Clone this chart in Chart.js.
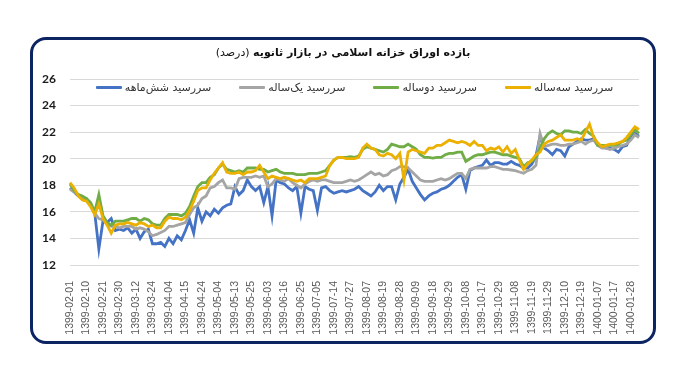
<!DOCTYPE html>
<html>
<head>
<meta charset="utf-8">
<script src="https://cdn.jsdelivr.net/npm/chart.js@4"></script>
<style>
  html, body { margin: 0; padding: 0; background: #fff; }
  #wrap { position: relative; width: 693px; height: 390px; }
  #frame {
    position: absolute; left: 30px; top: 37px; width: 626px; height: 307px;
    box-sizing: border-box; border: 3px solid #0d2463; border-radius: 16px;
  }
  #title {
    position: absolute; left: 30px; width: 626px; top: 46px; text-align: center;
    font-family: "DejaVu Sans", sans-serif; font-size: 11px; color: #111;
  }
  #title b { font-weight: bold; }
  #legend {
    position: absolute; left: 70px; width: 569px; top: 81px;
    display: flex; justify-content: center; gap: 28px;
    font-family: "DejaVu Sans", sans-serif; font-size: 11px; color: #333;
  }
  .item { display: flex; align-items: center; gap: 3px; }
  .swatch { width: 26px; height: 3px; border-radius: 1px; }
  canvas { position: absolute; left: 0; top: 0; }
</style>
</head>
<body>
<div id="wrap">
  <div id="frame"></div>
  <canvas id="chart" width="693" height="390"></canvas>
  <div id="title" dir="rtl"><b>بازده اوراق خزانه اسلامی در بازار ثانویه</b> (درصد)</div>
  <div id="legend"></div>
</div>
<script>
// tick labels, one every 4 points
const tickLabels = [
  '1399-02-01', '1399-02-10', '1399-02-21', '1399-02-30', '1399-03-12', '1399-03-24',
  '1399-04-04', '1399-04-15', '1399-04-24', '1399-05-04', '1399-05-13', '1399-05-25',
  '1399-06-03', '1399-06-16', '1399-06-25', '1399-07-05', '1399-07-14', '1399-07-27',
  '1399-08-07', '1399-08-19', '1399-08-28', '1399-09-09', '1399-09-18', '1399-09-29',
  '1399-10-08', '1399-10-17', '1399-10-29', '1399-11-08', '1399-11-19', '1399-11-29',
  '1399-12-10', '1399-12-19', '1400-01-07', '1400-01-17', '1400-01-28'
];
const labelStep = 4;

const seriesNames = ['سررسید شش‌ماهه', 'سررسید یک‌ساله', 'سررسید دوساله', 'سررسید سه‌ساله'];
const seriesColors = ['#4472C4', '#A5A5A5', '#70AD47', '#EBB000'];

const sixMonth = [
  17.8, 17.5, 17.2, 17.0, 16.9, 16.5, 15.9, 13.2, 15.3, 15.2,
  15.5, 14.6, 14.7, 14.6, 14.8, 14.4, 14.7, 14.0, 14.5, 14.7,
  13.6, 13.6, 13.7, 13.4, 14.0, 13.6, 14.2, 13.9, 14.6, 15.4,
  14.4, 16.3, 15.3, 16.0, 15.7, 16.2, 15.9, 16.3, 16.5, 16.6,
  17.9, 17.3, 17.6, 18.4, 17.9, 17.6, 17.9, 16.7, 17.9, 15.7,
  18.4, 18.2, 18.1, 17.8, 17.6, 17.9, 15.9, 17.9, 17.7, 17.6,
  16.1, 17.8, 17.9, 17.6, 17.4, 17.5, 17.6, 17.5, 17.6, 17.7,
  17.9, 17.6, 17.4, 17.2, 17.5, 18.0, 17.6, 17.9, 17.9, 16.9,
  18.1, 18.6, 19.2, 18.3, 17.8, 17.3, 16.9, 17.2, 17.4, 17.5,
  17.7, 17.8, 18.0, 18.3, 18.6, 18.8, 17.7, 19.1, 19.3, 19.4,
  19.5, 19.9, 19.5, 19.7, 19.7, 19.6, 19.6, 19.8, 19.6, 19.5,
  19.3, 19.3, 19.6, 20.2, 21.7, 20.8, 20.6, 20.3, 20.7, 20.6,
  20.2, 20.9, 21.1, 21.3, 21.5, 21.4, 21.4, 21.5, 21.0, 20.9,
  20.8, 20.8, 20.7, 20.5, 20.9, 21.0, 21.7, 21.9, 21.7
];
const oneYear = [
  17.7, 17.5, 17.3, 17.1, 17.0, 16.6, 15.9, 15.5, 15.4, 15.1,
  14.9, 14.9, 14.8, 14.9, 14.9, 14.9, 14.7, 14.8, 14.7, 14.5,
  14.2, 14.3, 14.45, 14.6, 14.9, 14.9, 15.0, 15.1, 15.2, 15.8,
  16.3, 16.5, 17.0, 17.2, 17.8, 17.9, 18.2, 18.4, 17.8, 17.8,
  17.7, 18.5, 18.6, 18.6, 18.6, 18.7, 18.6, 18.7, 17.9, 18.1,
  18.5, 18.4, 18.3, 18.5, 18.2, 18.0, 17.8, 18.1, 18.3, 18.4,
  18.3, 18.4, 18.4, 18.3, 18.2, 18.2, 18.2, 18.3, 18.4, 18.3,
  18.4, 18.6, 18.8, 19.0, 18.8, 18.9, 18.7, 18.8, 19.1, 19.2,
  19.4, 19.4, 19.3, 19.0, 18.7, 18.4, 18.3, 18.3, 18.3, 18.4,
  18.5, 18.4, 18.5, 18.7, 18.9, 18.9, 18.5, 19.2, 19.3, 19.3,
  19.3, 19.3, 19.4, 19.4, 19.3, 19.2, 19.2, 19.15, 19.1, 19.0,
  18.9, 19.1, 19.2, 19.5, 21.9, 20.9, 21.0, 21.1, 21.1, 21.0,
  21.0, 21.1, 21.1, 21.2, 21.3, 21.1, 21.3, 21.4, 21.0, 20.8,
  20.8, 20.7, 20.8, 20.9, 21.0, 21.1, 21.4, 21.8, 21.6
];
const twoYear = [
  18.1, 17.6, 17.3, 17.2, 17.0, 16.7, 16.0, 17.3, 15.7, 15.2,
  15.0, 15.3, 15.3, 15.3, 15.4, 15.5, 15.5, 15.3, 15.5, 15.4,
  15.1, 15.0, 15.0, 15.5, 15.8, 15.8, 15.8, 15.7, 15.9, 16.4,
  17.2, 17.9, 18.2, 18.2, 18.6, 18.8, 19.3, 19.6, 19.2, 19.1,
  19.0, 19.1, 19.0, 19.3, 19.3, 19.3, 19.2, 19.2, 19.0, 19.1,
  19.2, 19.0, 18.9, 18.9, 18.9, 18.8, 18.8, 18.8, 18.9, 18.9,
  18.9, 19.0, 19.1, 19.5, 19.9, 20.1, 20.1, 20.1, 20.15, 20.1,
  20.2, 20.7, 20.9, 20.8, 20.7, 20.6, 20.5, 20.7, 21.1, 21.0,
  20.9, 20.9, 21.1, 20.9, 20.7, 20.3, 20.1, 20.1, 20.05, 20.1,
  20.1, 20.3, 20.4, 20.4, 20.5, 20.5, 19.8, 20.0, 20.2, 20.3,
  20.3, 20.4, 20.5, 20.5, 20.4, 20.3, 20.3, 20.2, 20.1, 20.0,
  19.4, 19.7, 19.8, 20.1, 20.8, 21.5, 21.9, 22.1, 21.9, 21.8,
  22.1, 22.1, 22.0, 22.0, 21.9, 22.2, 21.9, 21.7, 21.0, 21.0,
  21.0, 21.0, 21.0, 21.1, 21.3, 21.4, 21.8, 22.2, 21.9
];
const threeYear = [
  18.2, 17.8, 17.2, 16.9, 16.8, 16.4, 15.8, 16.6, 15.5, 15.0,
  14.4, 15.0, 15.1, 15.1, 15.2, 15.1, 15.0, 15.2, 15.1, 14.9,
  15.0, 14.8, 14.8, 15.3, 15.6, 15.5, 15.5, 15.4, 15.6, 16.1,
  16.8, 17.6, 17.8, 17.8, 18.4, 18.9, 19.3, 19.7, 19.0, 18.9,
  18.9, 19.0, 18.8, 19.0, 19.0, 19.1, 19.5, 19.0, 18.5, 18.7,
  18.6, 18.5, 18.6, 18.5, 18.4, 18.3, 18.4, 18.2, 18.5, 18.5,
  18.5, 18.6, 18.7, 19.5, 19.9, 20.1, 20.1, 20.0, 20.0, 20.0,
  20.1, 20.8, 21.1, 20.8, 20.7, 20.3, 20.2, 20.4, 20.3, 20.0,
  20.4, 18.4, 20.5, 20.7, 20.6, 20.5, 20.4, 20.8, 20.8, 21.0,
  21.0, 21.2, 21.4, 21.3, 21.2, 21.3, 21.2, 21.0, 21.3, 21.0,
  21.0, 20.6, 20.8, 20.7, 20.9, 20.5, 20.9, 20.4, 20.7, 19.9,
  19.2, 19.6, 19.9, 20.3, 20.5, 21.1, 21.3, 21.4, 21.6, 21.8,
  21.4, 21.4, 21.4, 21.5, 21.4, 22.0, 22.6, 21.6, 21.2, 20.9,
  21.0, 21.1, 21.1, 21.2, 21.3, 21.6, 22.0, 22.4, 22.2
];

const categories = sixMonth.map((_, i) =>
  (i % labelStep === 0 && tickLabels[i / labelStep]) ? tickLabels[i / labelStep] : '');

const allSeries = [sixMonth, oneYear, twoYear, threeYear];

// legend, left to right like the original
const legend = document.getElementById('legend');
seriesNames.forEach((name, i) => {
  const item = document.createElement('div');
  item.className = 'item';
  item.innerHTML = '<span class="swatch" style="background:' + seriesColors[i] + '"></span>' +
    '<span dir="rtl">' + name + '</span>';
  legend.appendChild(item);
});

new Chart(document.getElementById('chart'), {
  type: 'line',
  data: {
    labels: categories,
    datasets: allSeries.map((values, i) => ({
      label: seriesNames[i],
      data: values,
      borderColor: seriesColors[i],
      borderWidth: 2.8,
      pointRadius: 0,
      tension: 0,
      fill: false,
      order: allSeries.length - i   // later series drawn on top
    }))
  },
  options: {
    responsive: false,
    animation: false,
    layout: { padding: { left: 40, right: 54, top: 79, bottom: 0 } },
    plugins: {
      legend: { display: false },
      title: { display: false },
      tooltip: { enabled: false }
    },
    scales: {
      x: {
        offset: false,
        grid: { display: false },
        border: { display: false },
        afterFit(scale) { scale.height = 125; },
        ticks: {
          autoSkip: false,
          minRotation: 90,
          maxRotation: 90,
          padding: 8,
          color: '#595959',
          font: { family: 'Liberation Sans', size: 10.5 }
        }
      },
      y: {
        min: 12,
        max: 26,
        afterFit(scale) { scale.width = 30; },
        grid: { color: '#D9D9D9', lineWidth: 1, drawTicks: false },
        border: { display: false },
        ticks: {
          stepSize: 2,
          padding: 14,
          color: '#1a1a1a',
          font: { family: 'Lato', size: 12, weight: 'bold' }
        }
      }
    }
  }
});
</script>
</body>
</html>
